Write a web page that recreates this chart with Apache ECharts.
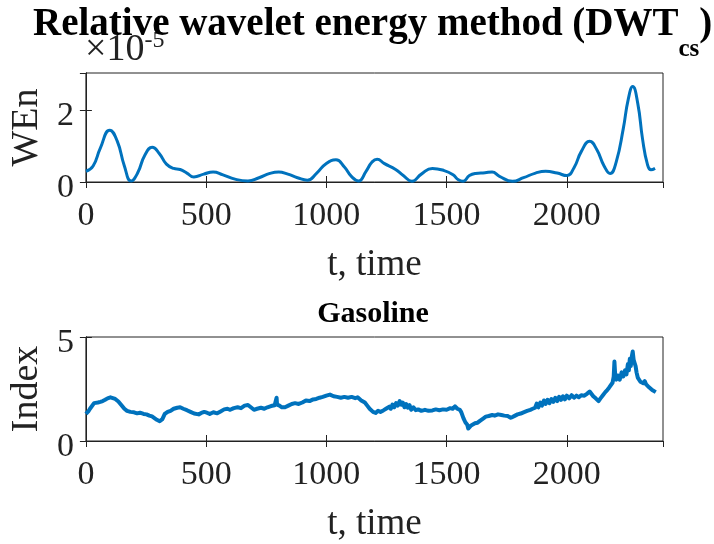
<!DOCTYPE html>
<html>
<head>
<meta charset="utf-8">
<script src="https://cdn.jsdelivr.net/npm/echarts@6/dist/echarts.min.js"></script>
<style>
  html, body { margin: 0; padding: 0; background: #ffffff; }
  #chart { width: 714px; height: 544px; }
</style>
</head>
<body>
<div id="chart"></div>
<script>
// Relative wavelet energy (x 1e-5) over time
const wenT = [0, 30, 60, 99, 130, 160, 188, 215, 245, 276, 305, 335, 365, 392, 420, 449, 490, 529, 570, 620,
  674, 720, 765, 802, 840, 880, 921, 960, 1000, 1040, 1075, 1105, 1134, 1165, 1190, 1211, 1240, 1288, 1320, 1356,
  1395, 1441, 1490, 1527, 1549, 1569, 1595, 1620, 1660, 1689, 1720, 1774, 1820, 1870, 1912, 1960, 2000, 2030, 2060, 2095,
  2125, 2155, 2180, 2205, 2235, 2255, 2274, 2295, 2315, 2335, 2350, 2367];
const wenVal = [0.30, 0.45, 0.95, 1.45, 1.15, 0.45, 0.03, 0.25, 0.75, 0.97, 0.80, 0.50, 0.38, 0.35, 0.25, 0.14, 0.22, 0.28, 0.20, 0.08,
  0.03, 0.12, 0.24, 0.28, 0.22, 0.12, 0.05, 0.25, 0.52, 0.62, 0.42, 0.15, 0.03, 0.30, 0.56, 0.64, 0.52, 0.35, 0.18, 0.02,
  0.22, 0.38, 0.32, 0.20, 0.06, 0.02, 0.18, 0.24, 0.26, 0.28, 0.16, 0.02, 0.12, 0.25, 0.30, 0.25, 0.18, 0.40, 0.85, 1.14,
  0.90, 0.45, 0.24, 0.55, 1.50, 2.30, 2.67, 2.20, 1.20, 0.50, 0.34, 0.38];

// Gasoline price index over time
const gasT = [0, 10, 17, 25, 34, 42, 50, 60, 70, 80, 90, 102, 112, 122, 135, 148, 160, 171, 185, 200,
  213, 225, 240, 252, 264, 275, 285, 295, 307, 318, 328, 340, 352, 365, 380, 392, 405, 420, 435, 450,
  469, 480, 492, 503, 515, 530, 546, 560, 575, 589, 600, 615, 631, 645, 660, 674, 686, 699, 712, 728,
  742, 755, 770, 785, 792, 793, 795, 805, 815, 828, 842, 856, 870, 885, 900, 915, 930, 945, 958, 972,
  985, 1000, 1015, 1030, 1045, 1060, 1075, 1090, 1105, 1120, 1130, 1145, 1160, 1170, 1180, 1194, 1205, 1215, 1225, 1237,
  1248, 1255, 1262, 1268, 1275, 1282, 1290, 1297, 1305, 1312, 1318, 1325, 1332, 1339, 1346, 1353, 1362, 1372, 1382, 1395,
  1410, 1425, 1441, 1455, 1470, 1485, 1500, 1515, 1525, 1535, 1545, 1555, 1561, 1570, 1578, 1586, 1590, 1595, 1602, 1610,
  1618, 1629, 1640, 1652, 1663, 1675, 1690, 1700, 1714, 1728, 1740, 1755, 1765, 1774, 1785, 1795, 1808, 1820, 1835, 1848,
  1858, 1868, 1875, 1882, 1890, 1897, 1905, 1912, 1920, 1928, 1936, 1944, 1952, 1960, 1968, 1976, 1984, 1992, 2000, 2010,
  2020, 2030, 2040, 2050, 2060, 2073, 2085, 2095, 2103, 2110, 2120, 2132, 2140, 2150, 2160, 2168, 2175, 2182, 2190, 2195,
  2198, 2201, 2206, 2212, 2220, 2228, 2235, 2242, 2248, 2254, 2258, 2262, 2266, 2270, 2274, 2278, 2282, 2286, 2290, 2295,
  2300, 2306, 2312, 2318, 2324, 2330, 2336, 2342, 2348, 2355, 2362, 2370];
const gasVal = [1.30, 1.42, 1.55, 1.62, 1.82, 1.75, 1.85, 1.88, 1.92, 1.98, 2.05, 2.10, 2.06, 2.02, 1.90, 1.72, 1.55, 1.45, 1.40, 1.38,
  1.33, 1.36, 1.30, 1.28, 1.22, 1.18, 1.10, 1.02, 0.95, 1.05, 1.30, 1.40, 1.45, 1.55, 1.60, 1.62, 1.55, 1.48, 1.40, 1.32,
  1.28, 1.35, 1.40, 1.36, 1.30, 1.38, 1.33, 1.42, 1.52, 1.55, 1.50, 1.58, 1.62, 1.58, 1.70, 1.73, 1.62, 1.50, 1.55, 1.60,
  1.55, 1.62, 1.68, 1.72, 1.72, 2.08, 1.75, 1.70, 1.62, 1.62, 1.70, 1.78, 1.82, 1.78, 1.85, 1.95, 1.92, 2.00, 2.02, 2.08,
  2.12, 2.18, 2.23, 2.15, 2.12, 2.08, 2.12, 2.08, 2.12, 2.06, 2.10, 1.95, 1.85, 1.70, 1.55, 1.40, 1.35, 1.45, 1.40, 1.47,
  1.55, 1.50, 1.65, 1.55, 1.75, 1.62, 1.82, 1.70, 1.92, 1.75, 1.85, 1.62, 1.78, 1.60, 1.72, 1.50, 1.62, 1.48, 1.52, 1.45,
  1.50, 1.45, 1.47, 1.52, 1.48, 1.52, 1.50, 1.58, 1.55, 1.67, 1.55, 1.50, 1.39, 1.10, 0.90, 0.78, 0.60, 0.55, 0.75, 0.68,
  0.85, 0.88, 0.98, 1.08, 1.17, 1.20, 1.25, 1.22, 1.28, 1.25, 1.22, 1.20, 1.12, 1.15, 1.22, 1.28, 1.32, 1.38, 1.45, 1.50,
  1.55, 1.60, 1.80, 1.62, 1.85, 1.70, 1.95, 1.78, 1.98, 1.82, 2.02, 1.88, 2.08, 1.92, 2.12, 1.98, 2.15, 2.00, 2.18, 2.05,
  2.20, 2.08, 2.18, 2.10, 2.20, 2.18, 2.28, 2.38, 2.30, 2.15, 2.05, 1.92, 2.05, 2.20, 2.35, 2.45, 2.55, 2.62, 2.80, 3.10,
  3.82, 3.20, 2.95, 3.15, 2.95, 3.30, 3.10, 3.40, 3.20, 3.70, 3.40, 3.95, 3.60, 4.05, 4.30, 3.90, 3.75, 3.60, 3.30, 3.05,
  3.00, 2.85, 2.92, 2.78, 2.88, 2.72, 2.80, 2.58, 2.65, 2.45, 2.40, 2.35];

// Axis tick settings
const xTickStep = 500;
const xMax = 2400;
const wenMax = 3.05;
const wenStep = 2;
const gasMax = 5;
const gasStep = 5;

const FONT = 'Liberation Serif';
const INK = '#222222';
const LINE = '#0072BD';

function zip(a, b) { return a.map((v, i) => [v, b[i]]); }

function xAxes(grid) {
  return [{
    gridIndex: grid, type: 'value', min: 0, max: xMax, interval: xTickStep,
    axisLine: { show: true, lineStyle: { color: INK, width: 1 } },
    axisTick: { inside: true, length: 6, lineStyle: { color: INK } },
    axisLabel: { showMaxLabel: false, fontFamily: FONT, fontSize: 34, color: INK, margin: 17,
      formatter: v => String(v) },
    splitLine: { show: false },
    name: 't, time', nameLocation: 'middle', nameGap: 65,
    nameTextStyle: { fontFamily: FONT, fontSize: 37, color: INK }
  }, {
    gridIndex: grid, type: 'value', min: 0, max: xMax, interval: xTickStep, position: 'top',
    axisLine: { show: true, lineStyle: { color: INK, width: 1 } },
    axisTick: { inside: true, length: 6, lineStyle: { color: INK } },
    axisLabel: { show: false }, splitLine: { show: false }
  }];
}

function yAxes(grid, max, step, name) {
  return [{
    gridIndex: grid, type: 'value', min: 0, max: max, interval: step,
    axisLine: { show: true, lineStyle: { color: INK, width: 1 } },
    axisTick: { inside: true, length: 6, lineStyle: { color: INK } },
    axisLabel: { showMaxLabel: max % step === 0, fontFamily: FONT, fontSize: 34, color: INK, margin: 12,
      verticalAlign: 'top', lineHeight: 12 },
    splitLine: { show: false },
    name: name, nameLocation: 'middle', nameRotate: 90, nameGap: 38,
    nameTextStyle: { fontFamily: FONT, fontSize: 38, color: INK }
  }, {
    gridIndex: grid, type: 'value', min: 0, max: max, interval: step, position: 'right',
    axisLine: { show: true, lineStyle: { color: INK, width: 1 } },
    axisTick: { inside: true, length: 6, lineStyle: { color: INK } },
    axisLabel: { show: false }, splitLine: { show: false }
  }];
}

const chart = echarts.init(document.getElementById('chart'), null, { renderer: 'canvas' });

chart.setOption({
  backgroundColor: '#ffffff',
  animation: false,
  title: [{
    text: '{a|Relative wavelet energy method (DWT}{s|cs}{a|)}',
    left: 33, top: 5, padding: 0,
    textStyle: {
      rich: {
        a: { fontFamily: FONT, fontSize: 39, fontWeight: 'bold', color: '#000', lineHeight: 48, verticalAlign: 'top' },
        s: { fontFamily: FONT, fontSize: 25, fontWeight: 'bold', color: '#000', lineHeight: 57, verticalAlign: 'bottom' }
      }
    }
  }, {
    text: 'Gasoline', left: 373, textAlign: 'center', top: 299, padding: 0,
    textStyle: { fontFamily: FONT, fontSize: 30, fontWeight: 'bold', color: '#000' }
  }],
  graphic: [{
    type: 'text', left: 85, top: 17,
    style: {
      text: '{m|×10}{e|-5}',
      rich: {
        m: { fontFamily: FONT, fontSize: 38, fill: INK, lineHeight: 40, verticalAlign: 'bottom', padding: [14, 0, 0, 0] },
        e: { fontFamily: FONT, fontSize: 24, fill: INK, lineHeight: 8, verticalAlign: 'top' }
      }
    }
  }],
  grid: [
    { left: 83, top: 73, width: 580, height: 109, show: true, borderColor: INK, borderWidth: 1, backgroundColor: '#fff' },
    { left: 83, top: 337, width: 580, height: 110, show: true, borderColor: INK, borderWidth: 1, backgroundColor: '#fff' }
  ],
  xAxis: [...xAxes(0), ...xAxes(1)],
  yAxis: [...yAxes(0, wenMax, wenStep, 'WEn'), ...yAxes(1, gasMax, gasStep, 'Index')],
  series: [{
    type: 'line', xAxisIndex: 0, yAxisIndex: 0, data: zip(wenT, wenVal),
    smooth: 0.5, showSymbol: false, lineStyle: { color: LINE, width: 3 }, clip: true
  }, {
    type: 'line', xAxisIndex: 2, yAxisIndex: 2, data: zip(gasT, gasVal),
    showSymbol: false, lineStyle: { color: LINE, width: 4, join: 'round' }, clip: true
  }]
});
</script>
</body>
</html>
